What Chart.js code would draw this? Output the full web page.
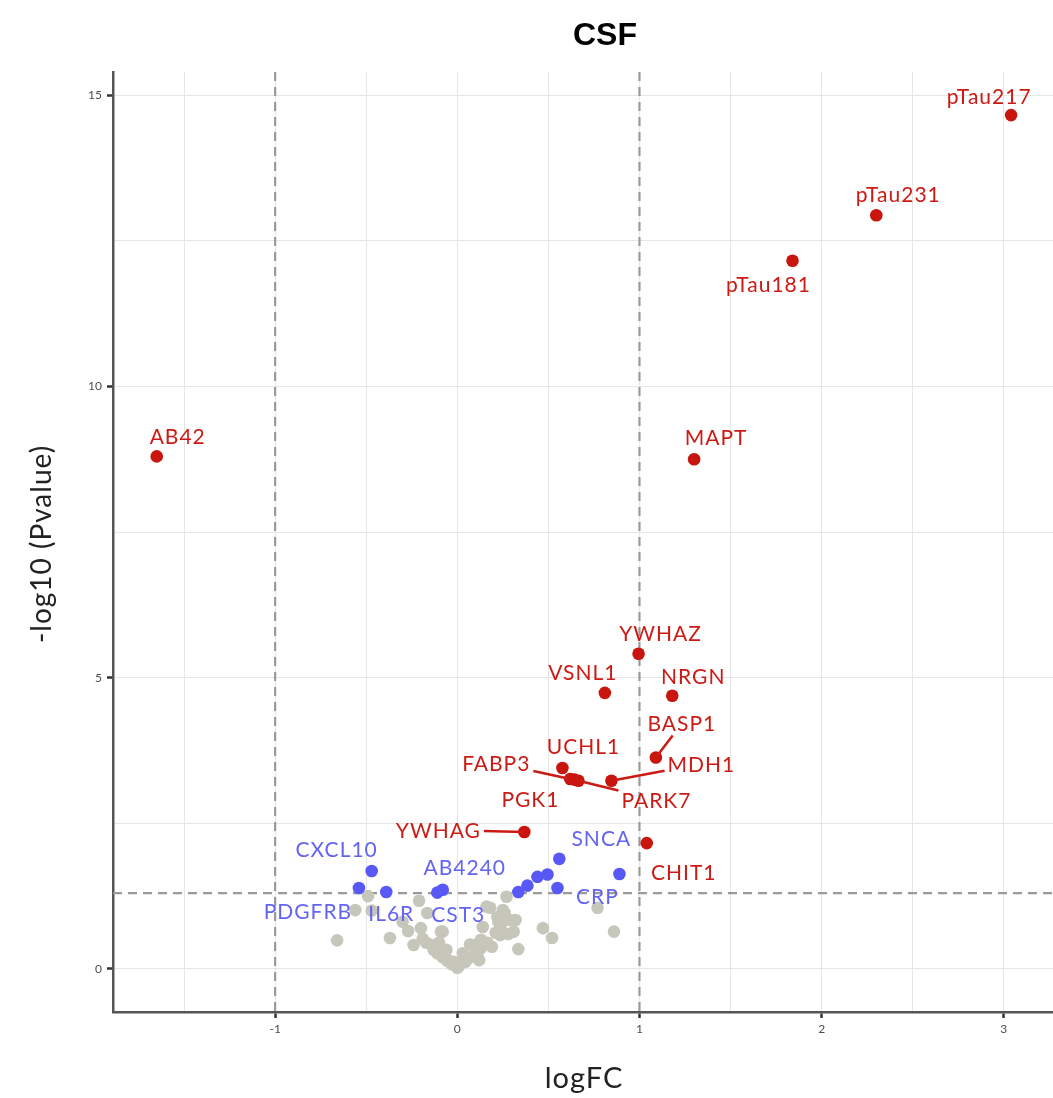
<!DOCTYPE html>
<html>
<head>
<meta charset="utf-8">
<script src="https://cdn.jsdelivr.net/npm/chart.js@4.4.0/dist/chart.umd.min.js"></script>
<style>
    body { margin: 0; background: #ffffff; overflow: hidden; }
    #wrap { width: 1053px; height: 1098px; position: relative; }
</style>
</head>
<body>
<div id="wrap"><canvas id="volcano"></canvas></div>
<script>
// Significant up/down (red)
var red_genes = ["pTau217", "pTau231", "pTau181", "AB42", "MAPT", "YWHAZ", "VSNL1", "NRGN", "BASP1", "MDH1",
                 "UCHL1", "FABP3", "PGK1", "PARK7", "YWHAG", "CHIT1"];
var red_logfc = [3.04, 2.30, 1.84, -1.65, 1.30, 0.995, 0.81, 1.18, 1.09, 0.846,
                 0.577, 0.62, 0.643, 0.665, 0.368, 1.04];
var red_logp  = [14.66, 12.94, 12.16, 8.80, 8.75, 5.41, 4.74, 4.69, 3.63, 3.23,
                 3.45, 3.26, 3.25, 3.23, 2.35, 2.16];

// p < 0.05 but small fold change (blue)
var blue_genes = ["CXCL10", "PDGFRB", "IL6R", "AB4240", "CST3", "SNCA", "CRP", "", "", "", "", ""];
var blue_logfc = [-0.47, -0.54, -0.39, -0.08, -0.11, 0.56, 0.89, 0.335, 0.385, 0.44, 0.495, 0.55];
var blue_logp  = [1.68, 1.39, 1.32, 1.36, 1.31, 1.89, 1.63, 1.32, 1.43, 1.58, 1.62, 1.39];

// Not significant (grey)
var grey_logfc = [-0.66, -0.56, -0.49, -0.47, -0.37, -0.30, -0.27, -0.21, -0.20, -0.24,
                  -0.165, -0.19, -0.09, -0.14, -0.13, -0.11, -0.08, -0.055, -0.03, 0.0,
                  0.01, 0.03, 0.045, 0.06, 0.07, 0.09, 0.11, 0.13, 0.13, 0.14,
                  0.16, 0.19, 0.21, 0.22, 0.225, 0.24, 0.27, 0.26, 0.29, 0.31,
                  0.335, 0.47, 0.52, 0.77, 0.86, -0.02, 0.10, 0.165, -0.06, 0.02,
                  -0.17, 0.25, 0.28, 0.12, 0.18, -0.10, -0.08, 0.32, 0.235, -0.05];
var grey_logp  = [0.49, 1.01, 1.25, 1.00, 0.53, 0.81, 0.65, 1.17, 0.70, 0.41,
                  0.96, 0.52, 0.64, 0.41, 0.33, 0.27, 0.20, 0.14, 0.08, 0.02,
                  0.05, 0.27, 0.12, 0.18, 0.42, 0.41, 0.24, 0.50, 0.36, 0.72,
                  1.07, 0.38, 0.62, 0.89, 0.81, 0.76, 1.24, 0.96, 0.84, 0.64,
                  0.34, 0.70, 0.53, 1.05, 0.64, 0.12, 0.30, 0.45, 0.33, 0.10,
                  0.45, 1.01, 0.60, 0.15, 1.05, 0.45, 0.64, 0.84, 0.58, 0.15];

var x_cutoffs = [-1, 1];
var y_cutoff = 1.301;

// Label offsets in px relative to the point: [dx, dy, draw_segment]
var label_offset = {
    "pTau217": [-22, -19, false], "pTau231": [22, -21, false], "pTau181": [-24, 24, false],
    "AB42": [21, -20, false], "MAPT": [22, -22, false], "YWHAZ": [22, -21, false],
    "VSNL1": [-22, -21, false], "NRGN": [21, -20, false], "BASP1": [26, -34, true],
    "MDH1": [90, -17, true], "UCHL1": [21, -22, false], "FABP3": [-74, -16, true],
    "PARK7": [78, 19, true], "PGK1": [-44, 20, false], "YWHAG": [-86, -2, true],
    "CHIT1": [37, 29, false], "SNCA": [42, -21, false], "CXCL10": [-35, -22, false],
    "AB4240": [22, -22, false], "PDGFRB": [-51, 23, false], "IL6R": [5, 21, false],
    "CST3": [21, 22, false], "CRP": [-22, 22, false]
};

var red_color = "#c8150e";
var blue_color = "#5858f6";
var grey_color = "#c6c6ba";
var label_font = "21px Lato, 'Noto Sans', sans-serif";
var axis_title_font = "29px Lato, 'Noto Sans', sans-serif";

function to_points (xs, ys) {
    var out = [];

    for (var i in xs) {
        out.push({"x": xs[i], "y": ys[i]});
    }

    return out;
}

var cutoff_plugin = {
    "id": "cutoffs",
    "beforeDatasetsDraw": function (chart) {
        var ctx = chart.ctx;
        var area = chart.chartArea;
        var sx = chart.scales.x;
        var sy = chart.scales.y;

        ctx.save();
        ctx.strokeStyle = "#9a9a9a";
        ctx.lineWidth = 2.2;
        ctx.setLineDash([9, 6]);

        for (var i in x_cutoffs) {
            var px = sx.getPixelForValue(x_cutoffs[i]);

            ctx.beginPath();
            ctx.moveTo(px, area.top);
            ctx.lineTo(px, area.bottom);
            ctx.stroke();
        }

        var py = sy.getPixelForValue(y_cutoff);

        ctx.beginPath();
        ctx.moveTo(area.left, py);
        ctx.lineTo(area.right, py);
        ctx.stroke();
        ctx.restore();
    }
};

var label_plugin = {
    "id": "gene_labels",
    "afterDatasetsDraw": function (chart) {
        var ctx = chart.ctx;
        var sx = chart.scales.x;
        var sy = chart.scales.y;
        var groups = [[red_genes, red_logfc, red_logp, "#cc1a14"], [blue_genes, blue_logfc, blue_logp, "#6464f2"]];

        ctx.save();
        ctx.font = label_font;
        ctx.letterSpacing = "1px";
        ctx.textAlign = "center";
        ctx.textBaseline = "middle";

        for (var g in groups) {
            var [names, xs, ys, color] = groups[g];

            for (var i in names) {
                var name = names[i];

                if (!name || !label_offset[name]) {
                    continue;
                }

                var px = sx.getPixelForValue(xs[i]);
                var py = sy.getPixelForValue(ys[i]);
                var off = label_offset[name];
                var cx = px + off[0];
                var cy = py + off[1];

                if (off[2]) {
                    var hw = ctx.measureText(name).width / 2 + 3;
                    var hh = 12;
                    var dx = px - cx;
                    var dy = py - cy;
                    var t = Math.min(dx !== 0 ? hw / Math.abs(dx) : 99, dy !== 0 ? hh / Math.abs(dy) : 99);

                    ctx.strokeStyle = color;
                    ctx.lineWidth = 2.5;
                    ctx.beginPath();
                    ctx.moveTo(cx + dx * t, cy + dy * t);
                    ctx.lineTo(px, py);
                    ctx.stroke();
                }

                ctx.fillStyle = color;
                ctx.fillText(name, cx, cy + 1);
            }
        }

        ctx.restore();
    }
};

var titles_plugin = {
    "id": "titles",
    "afterDraw": function (chart) {
        var ctx = chart.ctx;

        ctx.save();
        ctx.fillStyle = "#000000";
        ctx.textAlign = "center";
        ctx.textBaseline = "middle";
        ctx.font = "bold 32px 'Liberation Sans', Arial, sans-serif";
        ctx.fillText("CSF", 605, 36);

        ctx.fillStyle = "#222222";
        ctx.font = axis_title_font;
        ctx.letterSpacing = "1px";
        ctx.fillText("logFC", 584, 1079);

        ctx.font = "28px Lato, 'Noto Sans', sans-serif";
        ctx.translate(42, 544);
        ctx.rotate(-Math.PI / 2);
        ctx.fillText("-log10 (Pvalue)", 0, 0);
        ctx.restore();
    }
};

function is_step (value, step) {
    return Math.abs(value / step - Math.round(value / step)) < 1e-6;
}

new Chart(document.getElementById("volcano").getContext("2d"), {
    "type": "scatter",
    "data": {
        "datasets": [
            {
                "label": "up",
                "data": to_points(red_logfc, red_logp),
                "backgroundColor": red_color,
                "borderWidth": 0,
                "pointRadius": 6.3,
                "order": 1
            },
            {
                "label": "sig",
                "data": to_points(blue_logfc, blue_logp),
                "backgroundColor": blue_color,
                "borderWidth": 0,
                "pointRadius": 6.3,
                "order": 2
            },
            {
                "label": "ns",
                "data": to_points(grey_logfc, grey_logp),
                "backgroundColor": grey_color,
                "borderWidth": 0,
                "pointRadius": 6.3,
                "order": 3
            }
        ]
    },
    "options": {
        "responsive": true,
        "maintainAspectRatio": false,
        "animation": false,
        "layout": {
            "autoPadding": false,
            "padding": {"top": 72, "right": 0, "left": 0, "bottom": 0}
        },
        "scales": {
            "x": {
                "type": "linear",
                "min": -1.89,
                "max": 3.27,
                "afterFit": function (scale) {
                    scale.height = 86;
                    scale.paddingLeft = 0;
                    scale.paddingRight = 0;
                },
                "border": {"color": "#555555", "width": 2.5},
                "grid": {
                    "color": function (c) { return is_step(c.tick.value, 0.5) ? "#e6e6e6" : "rgba(0,0,0,0)"; },
                    "lineWidth": 1,
                    "tickLength": 6,
                    "tickColor": function (c) { return is_step(c.tick.value, 1) ? "#333333" : "rgba(0,0,0,0)"; },
                    "tickWidth": 2.5
                },
                "ticks": {
                    "stepSize": 0.5,
                    "autoSkip": false,
                    "maxRotation": 0,
                    "color": "#4d4d4d",
                    "padding": 4,
                    "font": {"family": "Lato, 'Noto Sans', sans-serif", "size": 12},
                    "callback": function (v) { return is_step(v, 1) ? String(Math.round(v)) : ""; }
                }
            },
            "y": {
                "type": "linear",
                "min": -0.74,
                "max": 15.4,
                "afterFit": function (scale) {
                    scale.width = 113;
                    scale.paddingTop = 0;
                    scale.paddingBottom = 0;
                },
                "border": {"color": "#555555", "width": 2.5},
                "grid": {
                    "color": function (c) { return is_step(c.tick.value, 2.5) ? "#e6e6e6" : "rgba(0,0,0,0)"; },
                    "lineWidth": 1,
                    "tickLength": 6,
                    "tickColor": function (c) { return is_step(c.tick.value, 5) ? "#333333" : "rgba(0,0,0,0)"; },
                    "tickWidth": 2.5
                },
                "ticks": {
                    "stepSize": 2.5,
                    "autoSkip": false,
                    "color": "#4d4d4d",
                    "padding": 5,
                    "font": {"family": "Lato, 'Noto Sans', sans-serif", "size": 12},
                    "callback": function (v) { return is_step(v, 5) ? String(Math.round(v)) : ""; }
                }
            }
        },
        "plugins": {
            "legend": {"display": false},
            "tooltip": {"enabled": false},
            "title": {"display": false}
        }
    },
    "plugins": [cutoff_plugin, label_plugin, titles_plugin]
});
</script>
</body>
</html>
